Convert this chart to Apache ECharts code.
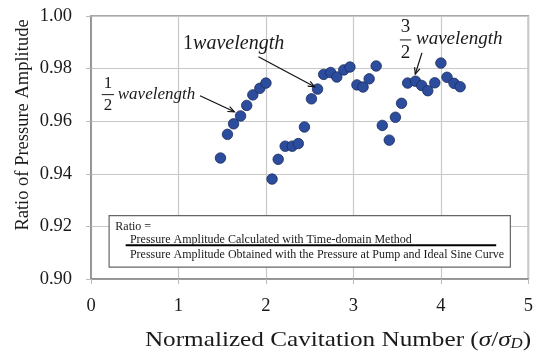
<!DOCTYPE html>
<html>
<head>
<meta charset="utf-8">
<script src="https://cdn.jsdelivr.net/npm/echarts/dist/echarts.min.js"></script>
<style>
  html, body { margin: 0; padding: 0; background: #fff; }
  #chart { width: 536px; height: 351px; }
</style>
</head>
<body>
<div id="chart"></div>
<script>
// Normalized cavitation number (sigma / sigma_D)
const cavitationNumber = [
  1.48, 1.56, 1.63, 1.71, 1.78, 1.85, 1.93, 2.00,
  2.07, 2.14, 2.22, 2.30, 2.37, 2.44, 2.52, 2.59,
  2.66, 2.74, 2.81, 2.89, 2.96, 3.04, 3.11, 3.18,
  3.26, 3.33, 3.41, 3.48, 3.55, 3.62, 3.71, 3.78,
  3.85, 3.93, 4.00, 4.07, 4.15, 4.22
];
// Ratio of pressure amplitude
const amplitudeRatio = [
  0.946, 0.955, 0.959, 0.962, 0.966, 0.970, 0.9725, 0.9745,
  0.938, 0.9455, 0.9505, 0.9505, 0.9515, 0.9578, 0.9685, 0.9722,
  0.9778, 0.9785, 0.9768, 0.9795, 0.9806, 0.9738, 0.9730, 0.9761,
  0.9810, 0.9584, 0.9528, 0.9615, 0.9668, 0.9745, 0.9752, 0.9736,
  0.9716, 0.9746, 0.9821, 0.9767, 0.9744, 0.9731
];
const xTickLabels = ['0', '1', '2', '3', '4', '5'];
const yTickLabels = ['0.90', '0.92', '0.94', '0.96', '0.98', '1.00'];

// Annotation anchors, in data units
const halfWaveArrow = [[1.246, 0.9697], [1.639, 0.9636]];
const oneWaveArrow = [[1.914, 0.9845], [2.556, 0.9731]];
const threeHalfArrow = [[3.783, 0.9860], [3.707, 0.9779]];

const SERIF = '"Liberation Serif", "Times New Roman", serif';
const points = cavitationNumber.map((x, i) => [x, amplitudeRatio[i]]);

const chart = echarts.init(document.getElementById('chart'), null, { renderer: 'canvas' });

chart.setOption({
  animation: false,
  backgroundColor: '#ffffff',
  grid: {
    left: 91, top: 16, right: 3.5, bottom: 72,
    show: true, borderColor: '#8c8c8c', borderWidth: 1.5, backgroundColor: 'transparent'
  },
  xAxis: {
    type: 'value', min: 0, max: 5, interval: 1,
    axisLine: { show: true, lineStyle: { color: '#8c8c8c', width: 1.5 } },
    axisTick: { show: true, length: 5, lineStyle: { color: '#bbbbbb' } },
    splitLine: { show: true, lineStyle: { color: '#c8c8c8', width: 1.2 } },
    axisLabel: {
      margin: 18, color: '#1a1a1a', fontFamily: SERIF, fontSize: 18.5,
      formatter: v => xTickLabels[Math.round(v)]
    }
  },
  yAxis: {
    type: 'value', min: 0.90, max: 1.00, interval: 0.02,
    axisLine: { show: true, lineStyle: { color: '#8c8c8c', width: 1.5 } },
    axisTick: { show: true, length: 5, lineStyle: { color: '#bbbbbb' } },
    splitLine: { show: true, lineStyle: { color: '#c8c8c8', width: 1.2 } },
    axisLabel: {
      margin: 19, color: '#1a1a1a', fontFamily: SERIF, fontSize: 18.5,
      formatter: v => yTickLabels[Math.round((v - 0.90) / 0.02)]
    }
  },
  series: [{
    type: 'scatter',
    data: points,
    symbol: 'circle',
    symbolSize: 10.5,
    itemStyle: { color: '#2c4d9e', borderColor: '#1b2c5c', borderWidth: 0.8, opacity: 1 },
    z: 5
  }]
});

// Annotations are anchored in data coordinates and converted through the grid
const px = (x, y) => chart.convertToPixel({ gridIndex: 0 }, [x, y]);

function arrow(seg) {
  const a = px(seg[0][0], seg[0][1]);
  const b = px(seg[1][0], seg[1][1]);
  const ang = Math.atan2(b[1] - a[1], b[0] - a[0]);
  const L = 7, W = 0.4;
  const h1 = [b[0] - L * Math.cos(ang - W), b[1] - L * Math.sin(ang - W)];
  const h2 = [b[0] - L * Math.cos(ang + W), b[1] - L * Math.sin(ang + W)];
  return [
    { type: 'line', shape: { x1: a[0], y1: a[1], x2: b[0], y2: b[1] },
      style: { stroke: '#111', lineWidth: 1.2 }, z: 20 },
    { type: 'polyline', shape: { points: [h1, b, h2] },
      style: { stroke: '#111', lineWidth: 1.2, fill: null }, z: 20 }
  ];
}

function text(x, y, str, opts) {
  const p = px(x, y);
  return {
    type: 'text', x: p[0], y: p[1], z: 20,
    style: Object.assign({
      text: str, fill: '#1a1a1a', font: '17px ' + SERIF,
      align: 'left', verticalAlign: 'middle'
    }, opts || {})
  };
}

function fraction(cx, yNum, yBar, yDen, half, num, den, size) {
  const a = px(cx - half, yBar), b = px(cx + half, yBar);
  const f = size + 'px ' + SERIF;
  return [
    text(cx, yNum, num, { align: 'center', font: f }),
    { type: 'line', shape: { x1: a[0], y1: a[1], x2: b[0], y2: b[1] },
      style: { stroke: '#1a1a1a', lineWidth: 1 }, z: 20 },
    text(cx, yDen, den, { align: 'center', font: f })
  ];
}

// Ratio definition box
const boxA = px(0.207, 0.9241), boxB = px(4.794, 0.9045);
const ruleA = px(0.396, 0.9128), ruleB = px(4.632, 0.9128);
const boxFont = '12px ' + SERIF;

const elements = [].concat(
  fraction(0.193, 0.9745, 0.9701, 0.9658, 0.07, '1', '2', 17),
  [text(0.306, 0.9700, 'wavelength', { font: 'italic 17px ' + SERIF })],
  arrow(halfWaveArrow),
  [text(1.053, 0.9894, '{n|1}{i|wavelength}', {
    rich: {
      n: { font: '20px ' + SERIF, fill: '#1a1a1a' },
      i: { font: 'italic 20px ' + SERIF, fill: '#1a1a1a' }
    }
  })],
  arrow(oneWaveArrow),
  fraction(3.596, 0.9958, 0.9909, 0.9859, 0.065, '3', '2', 19),
  [text(3.715, 0.9913, 'wavelength', { font: 'italic 19px ' + SERIF })],
  arrow(threeHalfArrow),
  [
    { type: 'rect', shape: { x: boxA[0], y: boxA[1], width: boxB[0] - boxA[0], height: boxB[1] - boxA[1] },
      style: { fill: '#ffffff', stroke: '#666666', lineWidth: 1.2 }, z: 15 },
    text(0.278, 0.9200, 'Ratio =', { font: boxFont }),
    text(0.445, 0.9148, 'Pressure Amplitude Calculated with Time-domain Method', { font: boxFont }),
    { type: 'line', shape: { x1: ruleA[0], y1: ruleA[1], x2: ruleB[0], y2: ruleB[1] },
      style: { stroke: '#000', lineWidth: 2 }, z: 20 },
    text(0.445, 0.9091, 'Pressure Amplitude Obtained with the Pressure at Pump and Ideal Sine Curve', { font: boxFont })
  ],
  [
    { type: 'text', x: 338, y: 340, z: 20, scaleX: 1.2,
      style: {
        text: '{r|Normalized Cavitation Number (}{i|σ}{r|/}{i|σ}{s|D}{r|)}',
        align: 'center', verticalAlign: 'middle',
        rich: {
          r: { font: '21px ' + SERIF, fill: '#1a1a1a' },
          i: { font: 'italic 21px ' + SERIF, fill: '#1a1a1a' },
          s: { font: 'italic 14px ' + SERIF, fill: '#1a1a1a', padding: [9, 0, 0, 0] }
        }
      } },
    { type: 'text', x: 23, y: 125, rotation: Math.PI / 2, z: 20,
      style: {
        text: 'Ratio of Pressure Amplitude', font: '18.5px ' + SERIF, fill: '#1a1a1a',
        align: 'center', verticalAlign: 'middle'
      } }
  ]
);

chart.setOption({ graphic: { elements: elements } });
</script>
</body>
</html>
